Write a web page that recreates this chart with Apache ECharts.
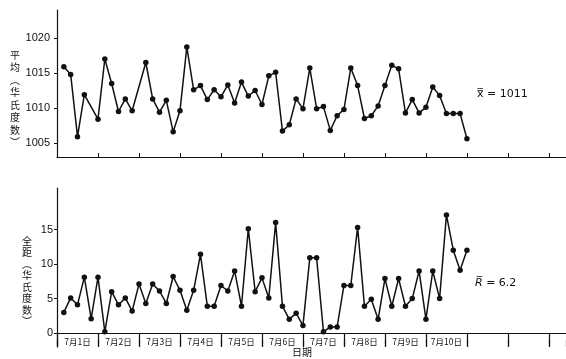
<!DOCTYPE html>
<html><head><meta charset="utf-8">
<script src="https://cdn.jsdelivr.net/npm/echarts@6/dist/echarts.min.js"></script>
<style>html,body{margin:0;padding:0;background:#fff}#c{width:566px;height:359px}</style>
</head><body><div id="c"></div>
<script>
// 6 samples per day, 7月1日 .. 7月10日 (null = no plotted point)
const meanValues = [
  1015.9, 1014.8, 1005.9, 1011.9, null, 1008.4,
  1017.0, 1013.5, 1009.5, 1011.3, 1009.6, null,
  1016.5, 1011.3, 1009.4, 1011.1, 1006.6, 1009.6,
  1018.7, 1012.6, 1013.2, 1011.2, 1012.6, 1011.6,
  1013.3, 1010.7, 1013.7, 1011.7, 1012.5, 1010.5,
  1014.6, 1015.1, 1006.7, 1007.6, 1011.3, 1009.9,
  1015.7, 1009.9, 1010.2, 1006.8, 1008.9, 1009.8,
  1015.7, 1013.2, 1008.5, 1008.9, 1010.3, 1013.2,
  1016.1, 1015.6, 1009.3, 1011.2, 1009.3, 1010.1,
  1013.0, 1011.8, 1009.2, 1009.2, 1009.2, 1005.6
];
const rangeValues = [
  3.0, 5.1, 4.1, 8.1, 2.1, 8.1,
  0.2, 6.0, 4.1, 5.1, 3.2, 7.1,
  4.3, 7.1, 6.1, 4.3, 8.2, 6.2,
  3.3, 6.2, 11.4, 3.9, 3.9, 6.9,
  6.1, 9.0, 3.9, 15.1, 6.0, 8.0,
  5.1, 16.0, 3.9, 2.0, 2.9, 1.1,
  10.9, 10.9, 0.2, 0.9, 0.9, 6.9,
  6.9, 15.3, 3.9, 4.9, 2.0, 7.9,
  3.9, 7.9, 3.9, 5.0, 9.0, 2.0,
  9.0, 5.0, 17.1, 12.0, 9.1, 12.0
];
const dayLabels = ['7月1日','7月2日','7月3日','7月4日','7月5日','7月6日','7月7日','7月8日','7月9日','7月10日'];
const meanTicks = [1005, 1010, 1015, 1020];
const rangeTicks = [0, 5, 10, 15];
const meanLabel = '平均︵华氏度数︶';
const rangeLabel = '全距︵华氏度数︶';
const xbarText = 'x\u033F = 1011';
const rbarText = '6.2';
const xName = '日期';

const perDay = 6;
const xMax = 74.5;
const dayTicks = [];
for (let k = 0; k * perDay <= xMax; k++) dayTicks.push(k * perDay);
const labelPos = dayLabels.map((d, i) => i * perDay + perDay / 2);

const black = '#111';
const numFont = 'Liberation Sans';
const cjkFont = 'Noto Sans CJK SC';

const chart = echarts.init(document.getElementById('c'), null, {renderer: 'canvas'});
const lineSeries = (data, xi, yi) => ({
  type: 'line', xAxisIndex: xi, yAxisIndex: yi,
  data: data.map((v, i) => [i + 1, v]),
  connectNulls: true, symbol: 'circle', symbolSize: 5.5,
  itemStyle: {color: black}, lineStyle: {color: black, width: 1.5},
  animation: false, silent: true
});
const baseX = {
  type: 'value', min: 0, max: xMax, interval: perDay,
  splitLine: {show: false},
  axisLine: {lineStyle: {color: black, width: 1.2}},
};
function columnText(str, x, y0, step, size) {
  return str.split('').map((ch, i) => ({
    type: 'text', left: x, top: y0 + i * step,
    style: {text: ch, font: size + 'px "Noto Sans CJK SC"', fill: black}
  }));
}
chart.setOption({
  backgroundColor: '#fff',
  animation: false,
  grid: [
    {left: 57, right: 0, top: 10, height: 147},
    {left: 57, right: 0, top: 188, height: 159}
  ],
  xAxis: [
    Object.assign({}, baseX, {gridIndex: 0, position: 'bottom',
      axisTick: {inside: true, length: 4, lineStyle: {color: black}},
      axisLabel: {show: false}}),
    Object.assign({}, baseX, {gridIndex: 1, position: 'bottom',
      axisLine: {onZero: true, lineStyle: {color: black, width: 1.2}},
      axisTick: {inside: false, length: 13, customValues: dayTicks, lineStyle: {color: black, width: 1.2}},
      axisLabel: {show: true, customValues: labelPos, margin: -9,
        formatter: v => dayLabels[Math.round((v - perDay / 2) / perDay)] || '',
        color: black, fontSize: 8.5, fontFamily: cjkFont}}),
    Object.assign({}, baseX, {gridIndex: 1, position: 'bottom',
      axisLine: {show: false, onZero: true},
      axisTick: {inside: true, length: 7, lineStyle: {color: black, width: 1.2}},
      axisLabel: {show: false}})
  ],
  yAxis: [
    {type: 'value', gridIndex: 0, min: 1003, max: 1024,
      splitLine: {show: false},
      axisLine: {show: true, lineStyle: {color: black, width: 1.2}},
      axisTick: {show: true, length: 3, customValues: meanTicks, lineStyle: {color: black}},
      axisLabel: {customValues: meanTicks, margin: 7, formatter: v => String(v),
        color: black, fontSize: 11, fontFamily: numFont}},
    {type: 'value', gridIndex: 1, min: -2, max: 21,
      splitLine: {show: false},
      axisLine: {show: true, onZero: false, lineStyle: {color: black, width: 1.2}},
      axisTick: {show: true, length: 3, customValues: rangeTicks, lineStyle: {color: black}},
      axisLabel: {customValues: rangeTicks, margin: 4, formatter: v => String(v),
        color: black, fontSize: 11, fontFamily: numFont}}
  ],
  series: [
    lineSeries(meanValues, 0, 0),
    lineSeries(rangeValues, 1, 1)
  ],
  graphic: [].concat(
    columnText(meanLabel, 10, 50, 12.5, 10),
    columnText(rangeLabel, 22, 236, 11.5, 10),
    [
      {type: 'text', left: 477, top: 89, style: {text: xbarText, font: '11px "DejaVu Sans"', fill: black}},
      {type: 'text', left: 475, top: 278, style: {
        text: '{r|R\u0305}{n| = ' + rbarText + '}',
        rich: {r: {font: 'italic 11px "DejaVu Sans"', fill: black}, n: {font: '11px "DejaVu Sans"', fill: black}}}},
      {type: 'text', left: 292, top: 347, style: {text: xName, font: '10px "Noto Sans CJK SC"', fill: black}}
    ]
  )
});
</script></body></html>
